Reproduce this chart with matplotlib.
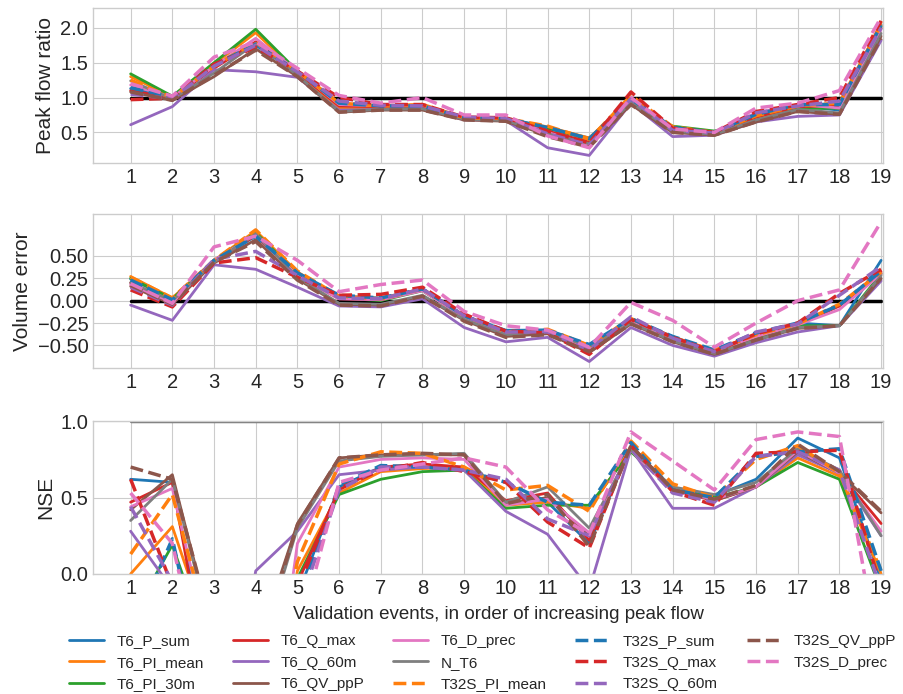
import matplotlib
matplotlib.use("Agg")
import matplotlib.pyplot as plt
import numpy as np

# model variants, in legend order
series_names = ["T6_P_sum", "T6_PI_mean", "T6_PI_30m", "T6_Q_max", "T6_Q_60m",
                "T6_QV_ppP", "T6_D_prec", "N_T6", "T32S_PI_mean", "T32S_P_sum",
                "T32S_Q_max", "T32S_Q_60m", "T32S_QV_ppP", "T32S_D_prec"]
series_colors = ["#1f77b4", "#ff7f0e", "#2ca02c", "#d62728", "#9467bd",
                 "#8c564b", "#e377c2", "#7f7f7f", "#ff7f0e", "#1f77b4",
                 "#d62728", "#9467bd", "#8c564b", "#e377c2"]
series_dashed = [False] * 8 + [True] * 6

events = list(range(1, 20))

# peak flow ratio, one row per series
peak_ratio = [
    [1.13, 1.00, 1.45, 1.75, 1.35, 0.88, 0.88, 0.87, 0.70, 0.69, 0.56, 0.42, 0.97, 0.57, 0.50, 0.72, 0.88, 0.82, 2.05],
    [1.30, 1.01, 1.48, 1.93, 1.36, 0.85, 0.86, 0.87, 0.71, 0.69, 0.58, 0.42, 0.98, 0.57, 0.50, 0.70, 0.87, 0.85, 2.08],
    [1.34, 1.02, 1.50, 1.98, 1.38, 0.90, 0.88, 0.87, 0.71, 0.70, 0.56, 0.40, 0.92, 0.59, 0.52, 0.65, 0.84, 0.85, 2.02],
    [1.10, 0.99, 1.42, 1.80, 1.36, 0.88, 0.87, 0.88, 0.70, 0.69, 0.52, 0.36, 0.98, 0.55, 0.49, 0.72, 0.87, 0.88, 2.00],
    [0.61, 0.87, 1.40, 1.37, 1.29, 0.82, 0.83, 0.84, 0.68, 0.67, 0.28, 0.17, 0.92, 0.44, 0.46, 0.65, 0.73, 0.75, 1.82],
    [1.08, 0.96, 1.30, 1.70, 1.30, 0.79, 0.82, 0.82, 0.68, 0.66, 0.46, 0.30, 0.90, 0.50, 0.46, 0.65, 0.80, 0.76, 1.88],
    [1.18, 1.00, 1.45, 1.85, 1.38, 0.90, 0.88, 0.89, 0.71, 0.70, 0.50, 0.32, 1.00, 0.54, 0.50, 0.78, 0.90, 0.85, 1.98],
    [1.24, 0.98, 1.35, 1.78, 1.32, 0.80, 0.83, 0.84, 0.69, 0.67, 0.48, 0.34, 0.93, 0.52, 0.47, 0.68, 0.83, 0.78, 1.92],
    [1.25, 1.00, 1.45, 1.80, 1.38, 0.92, 0.88, 0.90, 0.71, 0.70, 0.59, 0.40, 1.03, 0.58, 0.50, 0.74, 0.88, 0.92, 2.05],
    [1.14, 1.01, 1.47, 1.76, 1.38, 0.92, 0.88, 0.88, 0.71, 0.70, 0.57, 0.41, 0.98, 0.57, 0.50, 0.76, 0.90, 0.90, 2.04],
    [0.97, 0.99, 1.48, 1.72, 1.38, 1.00, 0.90, 0.90, 0.72, 0.71, 0.52, 0.35, 1.08, 0.56, 0.50, 0.80, 0.90, 1.00, 2.10],
    [1.05, 0.98, 1.45, 1.75, 1.37, 0.95, 0.89, 0.88, 0.72, 0.70, 0.48, 0.32, 0.98, 0.53, 0.49, 0.78, 0.88, 0.95, 2.00],
    [1.08, 0.96, 1.32, 1.68, 1.30, 0.79, 0.82, 0.82, 0.68, 0.66, 0.44, 0.29, 0.90, 0.50, 0.46, 0.65, 0.80, 0.76, 1.85],
    [1.20, 1.02, 1.58, 1.80, 1.42, 1.03, 0.92, 1.00, 0.75, 0.75, 0.45, 0.28, 1.00, 0.55, 0.50, 0.85, 0.92, 1.10, 2.15],
]

# volume error
volume_error = [
    [0.24, 0.02, 0.45, 0.72, 0.30, 0.05, 0.03, 0.13, -0.17, -0.33, -0.33, -0.50, -0.22, -0.40, -0.57, -0.40, -0.25, -0.28, 0.45],
    [0.27, 0.03, 0.45, 0.78, 0.32, 0.04, 0.01, 0.12, -0.18, -0.35, -0.33, -0.52, -0.23, -0.42, -0.55, -0.38, -0.26, -0.05, 0.30],
    [0.25, 0.02, 0.44, 0.76, 0.30, 0.03, 0.00, 0.11, -0.19, -0.37, -0.35, -0.52, -0.25, -0.44, -0.58, -0.42, -0.28, -0.28, 0.30],
    [0.20, -0.03, 0.44, 0.73, 0.28, 0.02, 0.01, 0.12, -0.19, -0.36, -0.34, -0.55, -0.22, -0.42, -0.57, -0.40, -0.27, -0.06, 0.32],
    [-0.05, -0.22, 0.40, 0.35, 0.15, -0.06, -0.07, 0.02, -0.30, -0.46, -0.41, -0.68, -0.30, -0.50, -0.62, -0.47, -0.35, -0.28, 0.22],
    [0.16, -0.04, 0.42, 0.68, 0.24, -0.04, -0.05, 0.05, -0.22, -0.40, -0.37, -0.58, -0.26, -0.46, -0.60, -0.44, -0.31, -0.28, 0.25],
    [0.18, -0.02, 0.45, 0.74, 0.28, 0.02, 0.01, 0.11, -0.19, -0.36, -0.34, -0.53, -0.24, -0.43, -0.57, -0.40, -0.27, -0.10, 0.30],
    [0.20, 0.00, 0.43, 0.75, 0.26, -0.03, -0.04, 0.06, -0.21, -0.38, -0.34, -0.52, -0.25, -0.45, -0.59, -0.44, -0.30, -0.28, 0.28],
    [0.26, 0.03, 0.45, 0.79, 0.33, 0.05, 0.02, 0.13, -0.17, -0.35, -0.32, -0.50, -0.20, -0.41, -0.56, -0.38, -0.26, -0.04, 0.32],
    [0.23, 0.01, 0.45, 0.72, 0.31, 0.06, 0.03, 0.13, -0.17, -0.34, -0.33, -0.49, -0.20, -0.40, -0.55, -0.36, -0.25, -0.05, 0.33],
    [0.12, -0.07, 0.42, 0.48, 0.26, 0.06, 0.07, 0.15, -0.15, -0.34, -0.36, -0.60, -0.21, -0.41, -0.57, -0.37, -0.25, 0.08, 0.35],
    [0.15, -0.05, 0.46, 0.55, 0.28, 0.03, 0.02, 0.13, -0.17, -0.35, -0.35, -0.55, -0.18, -0.42, -0.57, -0.35, -0.26, 0.06, 0.38],
    [0.17, -0.04, 0.43, 0.66, 0.23, -0.05, -0.06, 0.05, -0.23, -0.41, -0.38, -0.57, -0.26, -0.46, -0.60, -0.44, -0.31, -0.28, 0.25],
    [0.19, -0.03, 0.60, 0.72, 0.45, 0.10, 0.18, 0.23, -0.12, -0.28, -0.33, -0.52, -0.02, -0.22, -0.52, -0.25, 0.00, 0.12, 0.88],
]

# Nash-Sutcliffe efficiency (values below 0 run off the axis)
nse = [
    [0.62, 0.60, -0.80, -2.00, -0.14, 0.57, 0.70, 0.70, 0.68, 0.47, 0.47, 0.20, 0.83, 0.55, 0.51, 0.62, 0.89, 0.76, -0.04],
    [0.00, 0.31, -0.50, -1.50, 0.02, 0.53, 0.67, 0.69, 0.70, 0.45, 0.47, 0.43, 0.82, 0.54, 0.49, 0.57, 0.76, 0.64, 0.00],
    [-0.30, 0.19, -0.60, -1.80, -0.03, 0.52, 0.62, 0.67, 0.68, 0.43, 0.45, 0.45, 0.80, 0.55, 0.50, 0.57, 0.73, 0.62, -0.11],
    [0.47, 0.60, -0.90, -2.00, -0.06, 0.55, 0.70, 0.72, 0.70, 0.48, 0.53, 0.22, 0.84, 0.55, 0.48, 0.57, 0.80, 0.66, 0.33],
    [0.28, -0.10, -1.50, 0.02, 0.28, 0.65, 0.68, 0.70, 0.68, 0.41, 0.26, -0.10, 0.82, 0.43, 0.43, 0.57, 0.78, 0.66, 0.25],
    [0.42, 0.65, -0.43, -0.50, 0.33, 0.76, 0.78, 0.78, 0.78, 0.46, 0.50, 0.25, 0.82, 0.56, 0.48, 0.57, 0.80, 0.66, 0.40],
    [0.44, 0.56, -0.60, -1.80, 0.20, 0.70, 0.75, 0.76, 0.75, 0.45, 0.49, 0.27, 0.81, 0.54, 0.49, 0.57, 0.81, 0.66, 0.28],
    [0.35, 0.62, -0.45, -0.60, 0.30, 0.74, 0.77, 0.78, 0.79, 0.47, 0.57, 0.30, 0.81, 0.57, 0.52, 0.60, 0.82, 0.68, 0.25],
    [0.13, 0.52, -0.50, -1.20, 0.08, 0.72, 0.80, 0.79, 0.70, 0.55, 0.58, 0.41, 0.87, 0.59, 0.50, 0.75, 0.84, 0.66, 0.02],
    [-0.40, 0.23, -1.00, -2.00, -0.19, 0.58, 0.71, 0.70, 0.68, 0.60, 0.47, 0.45, 0.86, 0.55, 0.50, 0.77, 0.80, 0.82, 0.02],
    [0.62, -0.08, -1.50, -2.50, -0.10, 0.56, 0.68, 0.73, 0.67, 0.60, 0.34, 0.17, 0.84, 0.54, 0.45, 0.79, 0.80, 0.81, -0.09],
    [0.44, -0.05, -1.20, -2.00, -0.24, 0.55, 0.70, 0.70, 0.68, 0.62, 0.36, 0.25, 0.82, 0.53, 0.47, 0.77, 0.80, 0.68, -0.10],
    [0.70, 0.62, -0.40, -0.55, 0.32, 0.76, 0.78, 0.79, 0.78, 0.46, 0.52, 0.18, 0.84, 0.55, 0.49, 0.58, 0.85, 0.67, 0.41],
    [0.53, 0.20, -1.00, -2.50, -0.42, 0.60, 0.68, 0.72, 0.76, 0.70, 0.42, 0.26, 0.93, 0.74, 0.55, 0.88, 0.93, 0.90, -0.60],
]

plt.style.use("seaborn-v0_8-whitegrid")
plt.rcParams["font.family"] = ["Liberation Sans", "DejaVu Sans"]
plt.rcParams["axes.unicode_minus"] = True

fig = plt.figure(figsize=(9.04, 6.94), dpi=100)
ax1 = fig.add_axes([0.103, 0.765, 0.874, 0.223])
ax2 = fig.add_axes([0.103, 0.470, 0.874, 0.222])
ax3 = fig.add_axes([0.103, 0.173, 0.874, 0.220])

# (axis, values, label, perfect-score line, line colour, ylim, yticks, tick format)
panels = [
    (ax1, peak_ratio, "Peak flow ratio", 1.0, "black", (0.06, 2.28), [0.5, 1.0, 1.5, 2.0], "{:.1f}"),
    (ax2, volume_error, "Volume error", 0.0, "black", (-0.75, 0.97), [-0.5, -0.25, 0.0, 0.25, 0.5], "{:.2f}"),
    (ax3, nse, "NSE", 1.0, "0.45", (0.0, 1.0), [0.0, 0.5, 1.0], "{:.1f}"),
]

for ax, data, ylabel, ref, ref_col, ylim, yticks, fmt in panels:
    ax.plot(events, [ref] * len(events), color=ref_col, lw=2.5, zorder=1)
    for name, vals, col, dashed in zip(series_names, data, series_colors, series_dashed):
        ax.plot(events, vals, color=col, lw=2.5 if dashed else 2.0,
                ls="--" if dashed else "-", label=name, zorder=2)
    ax.set_xlim(0.1, 19.05)
    ax.set_ylim(*ylim)
    ax.set_xticks(events)
    ax.set_xticklabels([str(e) for e in events], fontsize=14.5)
    ax.set_yticks(yticks)
    ax.set_yticklabels([fmt.format(t).replace("-", "\u2212") for t in yticks], fontsize=14.5)
    ax.set_ylabel(ylabel, fontsize=15)

ax3.set_xlabel("Validation events, in order of increasing peak flow", fontsize=13.5)
ax3.xaxis.set_label_coords(0.513, -0.21)

handles, labels = ax1.get_legend_handles_labels()
handles = handles[-len(series_names):]
labels = labels[-len(series_names):]
fig.legend(handles, labels, loc="upper center", bbox_to_anchor=(0.534, 0.106),
           ncol=5, fontsize=11, frameon=False, handlelength=2.3,
           columnspacing=1.9, labelspacing=0.5)

fig.savefig("out.png", dpi=100)
